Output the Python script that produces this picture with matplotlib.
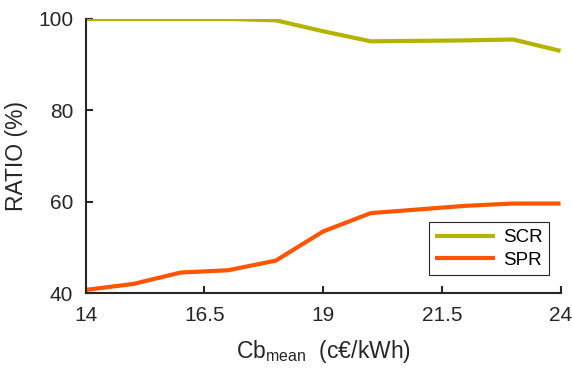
import matplotlib
matplotlib.use("Agg")
import matplotlib.pyplot as plt

# Datos
cb_mean = [14, 15, 16, 17, 18, 19, 20, 21, 22, 23, 24]
scr = [100.0, 100.0, 100.0, 100.0, 99.7, 97.3, 95.1, 95.2, 95.3, 95.5, 93.0]
spr = [40.7, 42.0, 44.5, 45.0, 47.1, 53.5, 57.5, 58.3, 59.1, 59.6, 59.6]

x_ticks = [14, 16.5, 19, 21.5, 24]
x_tick_labels = ['14', '16.5', '19', '21.5', '24']
y_ticks = [40, 60, 80, 100]

plt.rcParams['font.family'] = ['Liberation Sans', 'DejaVu Sans']

fig = plt.figure(figsize=(5.72, 3.71), dpi=100)
ax = fig.add_axes([0.150, 0.210, 0.830, 0.739])

ax.plot(cb_mean, scr, color='#B3B300', lw=3, label='SCR', solid_capstyle='butt')
ax.plot(cb_mean, spr, color='#FF5500', lw=3, label='SPR', solid_capstyle='butt')

ax.set_xlim(14, 24)
ax.set_ylim(40, 100)
ax.set_xticks(x_ticks)
ax.set_xticklabels(x_tick_labels)
ax.set_yticks(y_ticks)

for s in ['top', 'right']:
    ax.spines[s].set_visible(False)
for s in ['left', 'bottom']:
    ax.spines[s].set_color('#262626')
    ax.spines[s].set_linewidth(1.5)

ax.tick_params(direction='in', length=5, width=1.5, color='#262626',
               labelsize=15, labelcolor='#262626', pad=9)

ax.set_ylabel('RATIO (%)', fontsize=16.5, color='#262626', labelpad=7)
ax.set_xlabel(r'Cb$_{\mathregular{mean}}$  (c€/kWh)', fontsize=16.5,
              color='#262626', labelpad=10)

leg = ax.legend(loc='lower right', bbox_to_anchor=(0.995, 0.03), fontsize=13.5,
                handlelength=3.2, fancybox=False, framealpha=1,
                borderpad=0.35, labelspacing=0.3, handletextpad=0.4)
leg.get_frame().set_edgecolor('#262626')
leg.get_frame().set_linewidth(0.8)

fig.savefig('out.png', dpi=100)
